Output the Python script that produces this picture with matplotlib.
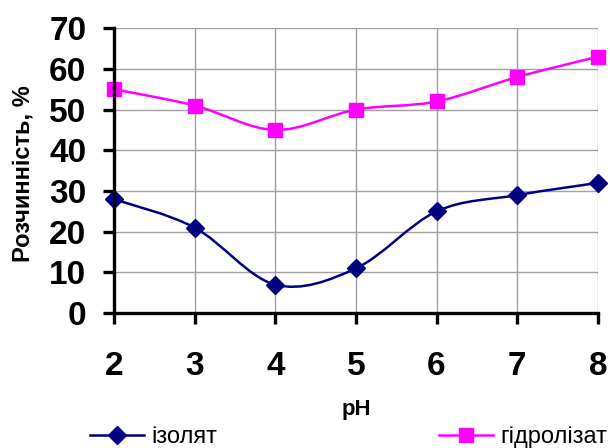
import matplotlib
matplotlib.use("Agg")
import matplotlib.pyplot as plt
import numpy as np
from matplotlib.path import Path
from matplotlib.patches import PathPatch
from matplotlib.lines import Line2D

# дані
ph = [2, 3, 4, 5, 6, 7, 8]
izolyat = [28, 21, 7, 11, 25, 29, 32]
hidrolizat = [55, 51, 45, 50, 52, 58, 63]
labels = ["ізолят", "гідролізат"]
colors = ["#000080", "#FF00FF"]
markers = ["D", "s"]
msizes = [9.5, 10.5]
yticks = [0, 10, 20, 30, 40, 50, 60, 70]

plt.rcParams["font.family"] = ["Liberation Sans", "DejaVu Sans"]


def smooth_path(x, y):
    # згладжування як в Excel (безьє через сусідні точки)
    pts = np.column_stack([x, y]).astype(float)
    n = len(pts)
    verts = [pts[0]]
    codes = [Path.MOVETO]
    for i in range(n - 1):
        p0 = pts[i - 1] if i > 0 else pts[i]
        p1 = pts[i]
        p2 = pts[i + 1]
        p3 = pts[i + 2] if i + 2 < n else pts[i + 1]
        c1 = p1 + (p2 - p0) / 6
        c2 = p2 - (p3 - p1) / 6
        verts += [c1, c2, p2]
        codes += [Path.CURVE4] * 3
    return Path(verts, codes)


fig = plt.figure(figsize=(6.1, 4.48), dpi=100)
ax = fig.add_axes([0.187, 0.301, 0.793, 0.636])

for ys, c, m, ms in zip([izolyat, hidrolizat], colors, markers, msizes):
    ax.add_patch(PathPatch(smooth_path(ph, ys), facecolor="none", edgecolor=c,
                           lw=1.8, zorder=3, clip_on=False))
    ax.plot(ph, ys, linestyle="none", marker=m, color=c, ms=ms,
            zorder=4, clip_on=False)

ax.set_xlim(2, 8)
ax.set_ylim(0, 70)
ax.set_xticks(ph)
ax.set_yticks(yticks)
ax.grid(True, color="#a0a0a0", lw=1)
ax.set_axisbelow(True)

for s in ["top", "right"]:
    ax.spines[s].set_visible(False)
for s in ["left", "bottom"]:
    ax.spines[s].set_linewidth(2.4)
    ax.spines[s].set_zorder(5)

ax.tick_params(direction="out", length=8, width=2.4, labelsize=24)
ax.tick_params(axis="x", pad=19)
ax.tick_params(axis="y", pad=12)
for t in ax.get_xticklabels() + ax.get_yticklabels():
    t.set_fontweight("bold")

ax.set_xlabel("pH", fontsize=16, fontweight="bold")
ax.set_ylabel("Розчинність, %", fontsize=17, fontweight="bold")
ax.xaxis.set_label_coords(0.5, -0.30)
ax.yaxis.set_label_coords(-0.165, 0.49)

handles = [Line2D([], [], color=c, marker=m, lw=1.8, ms=ms)
           for c, m, ms in zip(colors, markers, msizes)]
fig.legend(handles, labels, loc="center", bbox_to_anchor=(0.571, 0.025), ncol=2,
           frameon=False, fontsize=17, handlelength=2.3, handletextpad=0.3,
           columnspacing=9.4, borderpad=0, borderaxespad=0)

fig.savefig("out.png", dpi=100)
